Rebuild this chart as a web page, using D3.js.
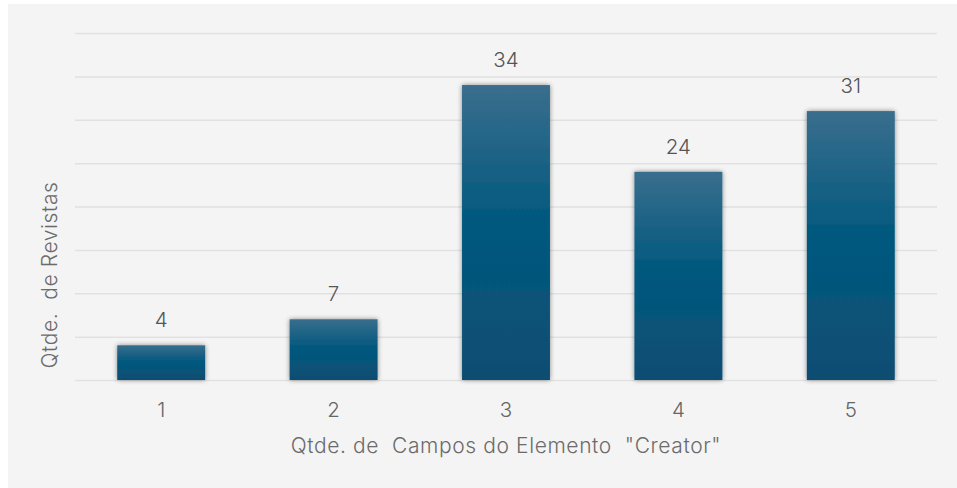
<!DOCTYPE html>
<html>
<head>
<meta charset="utf-8">
<script src="https://cdn.jsdelivr.net/npm/d3@7"></script>
<style>
  html, body { margin: 0; padding: 0; background: #ffffff; overflow: hidden; }
  svg { display: block; }
  text { font-family: "Inter", "Liberation Sans", sans-serif; fill: #6b6b6b; white-space: pre; }
</style>
</head>
<body>
<script>
const categories = ["1", "2", "3", "4", "5"];
const values = [4, 7, 34, 24, 31];
const yTicks = [0, 5, 10, 15, 20, 25, 30, 35, 40];
const xTitle = "Qtde. de  Campos do Elemento  \"Creator\"";
const yTitle = "Qtde.  de Revistas";

const W = 957, H = 488;
const svg = d3.select("body").append("svg").attr("width", W).attr("height", H);

const defs = svg.append("defs");
const grad = defs.append("linearGradient").attr("id", "barGrad")
  .attr("x1", 0).attr("y1", 0).attr("x2", 0).attr("y2", 1);
grad.append("stop").attr("offset", "0%").attr("stop-color", "#3a6e8d");
grad.append("stop").attr("offset", "45%").attr("stop-color", "#03597f");
grad.append("stop").attr("offset", "100%").attr("stop-color", "#0b4d72");

const f = defs.append("filter").attr("id", "shadow")
  .attr("x", "-20%").attr("y", "-20%").attr("width", "140%").attr("height", "140%");
f.append("feGaussianBlur").attr("in", "SourceAlpha").attr("stdDeviation", 2.4).attr("result", "b");
f.append("feComponentTransfer").attr("in", "b").attr("result", "b2")
  .append("feFuncA").attr("type", "linear").attr("slope", 0.45);
const m = f.append("feMerge");
m.append("feMergeNode").attr("in", "b2");
m.append("feMergeNode").attr("in", "SourceGraphic");

// panel
svg.append("rect").attr("x", 8).attr("y", 4).attr("width", W - 8).attr("height", H - 4)
  .attr("fill", "#f4f4f4");

const x = d3.scaleBand().domain(categories).range([75, 937]).paddingInner(0.49).paddingOuter(0.245);
const y = d3.scaleLinear().domain([0, 40]).range([380, 33]);

// gridlines via axis
const yAxis = d3.axisLeft(y).tickValues(yTicks).tickSize(-(937 - 75)).tickFormat("");
const gy = svg.append("g").attr("transform", "translate(75,0)").call(yAxis);
gy.select(".domain").remove();
gy.selectAll(".tick line").attr("stroke", "#e1e1e1").attr("stroke-width", 1.5);

// bars
svg.append("g").selectAll("rect").data(values).join("rect")
  .attr("x", (d, i) => x(categories[i]))
  .attr("y", d => y(d))
  .attr("width", x.bandwidth())
  .attr("height", d => y(0) - y(d))
  .attr("fill", "url(#barGrad)")
  .attr("filter", "url(#shadow)");

// value labels
svg.append("g").selectAll("text").data(values).join("text")
  .attr("x", (d, i) => x(categories[i]) + x.bandwidth() / 2)
  .attr("y", d => y(d) - 18)
  .attr("text-anchor", "middle")
  .attr("font-size", 20.5)
  .attr("font-weight", 300)
  .style("fill", "#555555")
  .text(d => d);

// x axis labels
const xAxis = d3.axisBottom(x).tickSize(0).tickPadding(22);
const gx = svg.append("g").attr("transform", "translate(0,380)").call(xAxis);
gx.select(".domain").remove();
gx.selectAll(".tick text").attr("font-size", 20.5).attr("font-weight", 300).style("fill", "#666666")
  .style("font-family", "Inter, 'Liberation Sans', sans-serif");

// axis titles
svg.append("text").attr("x", 506).attr("y", 453).attr("text-anchor", "middle")
  .attr("font-size", 21).attr("font-weight", 300).attr("letter-spacing", 0.6).text(xTitle);
svg.append("text").attr("transform", "translate(57,275) rotate(-90)")
  .attr("text-anchor", "middle").attr("font-size", 21).attr("font-weight", 300)
  .attr("letter-spacing", 0.6).text(yTitle);
</script>
</body>
</html>
